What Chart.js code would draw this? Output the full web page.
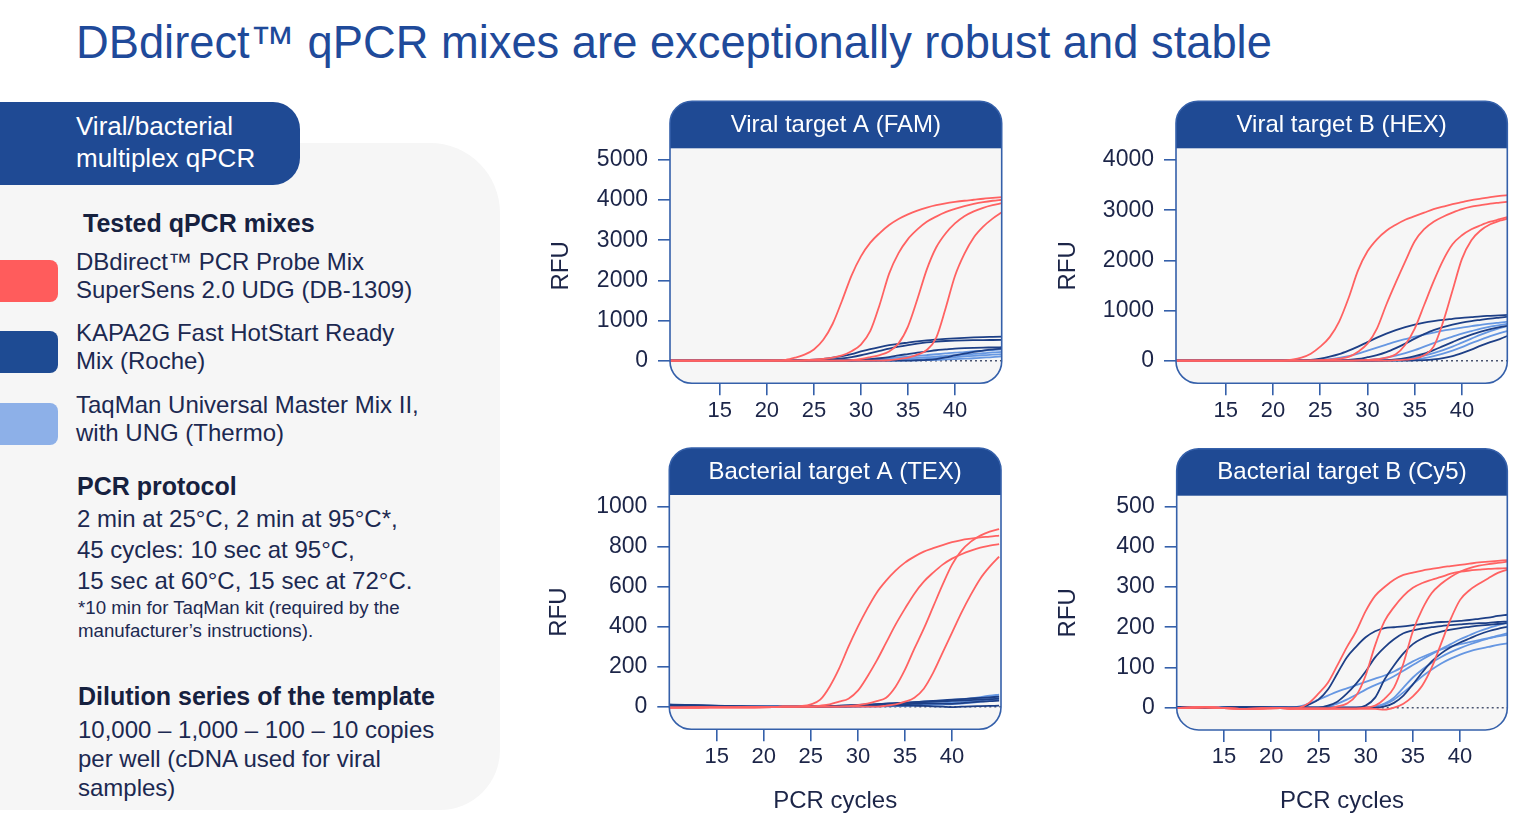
<!DOCTYPE html>
<html>
<head>
<meta charset="utf-8">
<script src="https://cdn.jsdelivr.net/npm/chart.js@4.4.1/dist/chart.umd.min.js"></script>
<style>
  html, body { margin: 0; padding: 0; background: #fff; }
  body { width: 1536px; height: 829px; position: relative; overflow: hidden;
         font-family: 'Liberation Sans', Arial, sans-serif; color: #1c2951; }
  .abs { position: absolute; white-space: nowrap; }
  #title { left: 76px; top: 17.6px; font-size: 45.3px; line-height: 50px; color: #1f4a9a; }
  #panel { left: 0; top: 143px; width: 500px; height: 667px; background: #f6f6f6;
           border-radius: 0 70px 60px 0; }
  #tab { left: 0; top: 102px; width: 300px; height: 83px; background: #1f4a94;
         border-radius: 0 27px 27px 0; }
  #tabText { left: 76px; top: 110px; font-size: 26px; line-height: 32px; color: #fff; }
  .sw { position: absolute; left: 0; width: 58px; border-radius: 0 8px 8px 0; }
  .head { font-weight: bold; font-size: 25px; line-height: 30px; color: #16213f; }
  .leg { font-size: 24px; line-height: 28.3px; }
  .proto { font-size: 24px; line-height: 31.2px; }
  .note { font-size: 18.7px; line-height: 22.7px; }
  .dil { font-size: 24px; line-height: 29px; }
  canvas { position: absolute; }
</style>
</head>
<body>
<div id="title" class="abs">DBdirect™ qPCR mixes are exceptionally robust and stable</div>
<div id="panel" class="abs"></div>
<div id="tab" class="abs"></div>
<div id="tabText" class="abs">Viral/bacterial<br>multiplex qPCR</div>

<div class="abs head" style="left:83px;top:208px">Tested qPCR mixes</div>
<div class="sw" style="top:260px;height:42px;background:#ff5c5c"></div>
<div class="sw" style="top:331px;height:42px;background:#1e4b93"></div>
<div class="sw" style="top:403px;height:42px;background:#8db0e8"></div>
<div class="abs leg" style="left:76px;top:247.5px">DBdirect™ PCR Probe Mix<br>SuperSens 2.0 UDG (DB-1309)</div>
<div class="abs leg" style="left:76px;top:319.2px">KAPA2G Fast HotStart Ready<br>Mix (Roche)</div>
<div class="abs leg" style="left:76px;top:390.8px">TaqMan Universal Master Mix II,<br>with UNG (Thermo)</div>

<div class="abs head" style="left:77px;top:471.3px">PCR protocol</div>
<div class="abs proto" style="left:77px;top:502.8px">2 min at 25°C, 2 min at 95°C*,<br>45 cycles: 10 sec at 95°C,<br>15 sec at 60°C, 15 sec at 72°C.</div>
<div class="abs note" style="left:78px;top:597px">*10 min for TaqMan kit (required by the<br>manufacturer’s instructions).</div>

<div class="abs head" style="left:78px;top:681.3px">Dilution series of the template</div>
<div class="abs dil" style="left:78px;top:714.9px">10,000 – 1,000 – 100 – 10 copies<br>per well (cDNA used for viral<br>samples)</div>

<canvas id="famChart" width="475" height="345" style="left:540px;top:95px"></canvas>
<canvas id="hexChart" width="486" height="345" style="left:1050px;top:95px"></canvas>
<canvas id="texChart" width="475" height="389" style="left:540px;top:440px"></canvas>
<canvas id="cy5Chart" width="486" height="389" style="left:1050px;top:440px"></canvas>

<script>
// PCR cycle at which each value was read
const cycles = [9, 13, 17, 21, 22, 23, 24, 25, 26, 27, 28, 29, 30, 31, 32, 33, 34, 35, 36, 37, 38, 39, 40, 41, 42, 43, 44, 45];
const xTicks = [15, 20, 25, 30, 35, 40];

// Viral target A (FAM)
const famRed1 = [0,0,0,5, 20,75,150,280,520,920,1500,2120,2600,2940,3180,3380,3530,3645,3740,3815,3875,3920,3955,3985,4010,4035,4055,4075];
const famRed2 = [0,0,0,0, 0,0,10,25,45,75,130,235,400,740,1400,2170,2680,3030,3270,3460,3590,3700,3780,3850,3905,3950,3985,4010];
const famRed3 = [0,0,0,0, 0,0,0,0,0,0,0,15,45,90,140,230,430,850,1530,2270,2820,3170,3420,3600,3720,3810,3875,3925];
const famRed4 = [0,0,0,0, 0,0,0,0,0,0,0,0,0,0,0,10,40,75,150,265,570,1300,2110,2660,3070,3340,3540,3700];
const famDark1 = [0,0,0,0, 0,5,12,25,45,75,115,165,230,290,340,385,420,450,480,505,525,543,558,570,580,588,594,600];
const famDark2 = [0,0,0,0, 0,0,0,5,15,30,55,90,135,190,245,300,350,390,425,455,475,490,500,506,510,513,515,517];
const famDark3 = [0,0,0,0, 0,0,0,0,0,0,5,10,20,35,60,90,130,165,200,230,260,280,300,312,320,326,330,335];
const famDark4 = [0,0,0,0, 0,0,0,0,0,0,0,0,0,0,0,0,0,0,10,20,40,80,130,175,220,250,280,300];
const famLight1 = [0,0,0,0, 0,0,0,0,0,0,5,10,20,30,40,60,80,100,120,140,160,180,200,215,235,250,265,280];
const famLight2 = [0,0,0,0, 0,0,0,0,0,0,0,0,5,10,20,30,40,55,70,85,100,120,135,150,170,185,205,220];
const famLight3 = [0,0,0,0, 0,0,0,0,0,0,0,0,0,0,5,10,15,20,30,45,60,75,90,105,120,135,150,160];
const famLight4 = [0,0,0,0, 0,0,0,0,0,0,0,0,0,0,0,0,2,5,10,15,20,30,40,50,60,75,90,110];
const famTicks = [0, 1000, 2000, 3000, 4000, 5000];

// Viral target B (HEX)
const hexRed1 = [0,0,0,0, 20,60,140,280,470,780,1250,1800,2180,2420,2590,2710,2810,2880,2950,3020,3070,3120,3160,3200,3230,3260,3285,3300];
const hexRed2 = [0,0,0,0, 0,0,5,10,20,40,75,180,340,640,1120,1560,1980,2380,2620,2770,2870,2950,3020,3070,3100,3130,3150,3170];
const hexRed3 = [0,0,0,0, 0,0,0,0,0,0,0,5,15,30,60,130,320,640,1110,1580,2000,2320,2500,2620,2700,2770,2820,2870];
const hexRed4 = [0,0,0,0, 0,0,0,0,0,0,0,0,0,0,0,10,20,40,110,280,770,1400,2030,2400,2600,2720,2790,2840];
const hexDark1 = [0,0,0,0, 0,5,15,40,80,130,200,280,370,460,540,610,670,720,760,790,815,835,855,870,885,895,905,915];
const hexDark2 = [0,0,0,0, 0,0,0,0,0,5,15,35,70,110,170,250,340,440,530,610,670,720,760,790,815,840,860,880];
const hexDark3 = [0,0,0,0, 0,0,0,0,0,0,0,0,0,0,0,0,0,5,10,25,50,90,150,220,300,370,430,510];
const hexDark4 = [0,0,0,0, 0,0,0,0,0,0,0,0,0,5,10,25,50,90,140,210,290,370,450,520,580,630,670,700];
const hexLight1 = [0,0,0,0, 0,0,5,15,30,55,90,140,200,260,320,380,430,480,520,560,600,630,660,690,715,740,760,780];
const hexLight2 = [0,0,0,0, 0,0,0,0,0,0,0,5,15,30,60,100,150,210,280,350,420,480,540,590,640,680,710,740];
const hexLight3 = [0,0,0,0, 0,0,0,0,0,0,0,0,0,0,5,15,30,60,100,150,210,280,360,440,520,590,650,700];
const hexLight4 = [0,0,0,0, 0,0,0,0,0,0,0,0,0,0,0,5,10,25,50,90,140,200,270,350,420,490,550,600];
const hexTicks = [0, 1000, 2000, 3000, 4000];

// Bacterial target A (TEX)
const texRed1 = [-5,-4,-3,-2, 0,0,3,12,35,100,190,300,400,490,570,630,680,720,750,775,792,808,822,833,840,846,850,855];
const texRed2 = [-5,-4,-3,-2, 0,0,0,0,5,12,25,40,80,150,230,320,410,490,565,625,670,710,740,762,780,795,805,813];
const texRed3 = [-5,-4,-3,-2, 0,0,0,0,0,0,0,3,8,15,28,45,100,185,290,390,500,610,710,780,825,855,875,888];
const texRed4 = [-5,-4,-3,-2, 0,0,0,0,0,0,0,0,0,0,0,5,12,25,45,90,170,270,370,470,560,640,700,750];
const texDark1 = [12,8,3,0, 0,0,0,0,0,2,4,6,8,10,12,15,18,20,23,26,29,32,35,38,41,44,47,50];
const texDark2 = [10,6,2,0, 0,0,0,0,2,3,5,7,9,11,13,15,17,19,21,23,25,27,29,31,33,35,38,40];
const texDark3 = [8,5,0,-2, -2,-2,-1,0,0,1,2,3,4,5,6,8,10,12,14,15,16,15,14,18,22,25,28,30];
const texDark4 = [6,3,0,0, 0,0,0,0,0,0,0,1,2,3,4,5,6,6,5,4,2,0,-2,0,2,3,4,5];
const texLight1 = [5,3,0,0, 0,0,0,0,0,1,2,4,6,8,10,13,16,19,22,25,28,31,34,38,42,48,55,60];
const texLight2 = [4,2,0,0, 0,0,0,0,0,0,1,2,4,6,8,10,12,15,18,21,24,27,30,33,37,42,48,52];
const texLight3 = [3,1,0,0, 0,0,0,0,0,0,0,0,1,2,3,4,6,8,10,12,14,17,20,23,27,32,38,44];
const texLight4 = [2,1,0,0, 0,0,0,0,0,0,0,0,0,0,1,2,3,4,5,7,9,11,13,16,20,25,30,35];
const texTicks = [0, 200, 400, 600, 800, 1000];

// Bacterial target B (Cy5)
const cy5Red1 = [-2,1,-3,-1, -2,0,12,35,62,105,150,190,240,278,300,318,330,336,341,345,349,352,355,358,361,363,365,367];
const cy5Red2 = [-2,1,-3,-1, -2,-2,-2,-2,-2,3,10,30,80,155,215,250,278,298,310,318,325,333,338,341,343,345,346,347];
const cy5Red3 = [-2,1,-3,-1, -2,-2,-2,-2,-2,-2,-2,-2,0,5,22,50,110,190,245,285,308,325,338,347,353,357,360,363];
const cy5Red4 = [-2,1,-3,-1, -3,-3,-3,-3,-3,-3,-3,-3,-3,-3,-5,0,10,28,55,100,160,220,268,292,308,322,335,343];
const cy5Dark1 = [2,-1,1,0, 0,0,8,20,45,85,125,152,175,190,198,200,202,205,208,211,213,214,216,218,221,224,228,231];
const cy5Dark2 = [2,-1,1,0, 0,0,0,0,5,15,35,60,90,125,150,170,185,192,197,200,203,205,207,209,210,211,213,214];
const cy5Dark3 = [2,-1,1,0, 0,0,0,0,0,0,0,0,5,25,70,105,135,158,172,182,189,194,198,201,204,206,208,210];
const cy5Dark4 = [2,-1,1,0, 0,0,0,0,0,0,0,0,0,0,3,12,30,58,88,115,135,150,162,172,182,190,196,201];
const cy5Light1 = [1,2,0,1, 0,3,10,20,30,40,48,56,64,72,80,90,102,115,126,136,145,152,158,163,168,173,177,181];
const cy5Light2 = [1,2,0,1, 0,0,0,0,3,10,20,32,45,56,66,78,92,106,120,133,146,158,170,180,190,198,205,212];
const cy5Light3 = [1,2,0,1, 0,0,0,0,0,0,0,0,0,3,10,25,50,75,95,112,126,138,148,157,165,172,179,185];
const cy5Light4 = [1,2,0,1, 0,0,0,0,0,0,0,0,0,2,8,20,38,58,78,95,110,122,132,140,146,151,156,160];
const cy5Ticks = [0, 100, 200, 300, 400, 500];

const RED = "#ff6262";
const DARK = "#1d3f86";
const LIGHT = "#6697e2";
const BAND = "#1f4a94";
const EDGE = "#3560aa";
const FONT = "'Liberation Sans', Arial, sans-serif";

Chart.defaults.font.family = FONT;
Chart.defaults.color = "#1c2548";

function roundedPath(ctx, x, y, w, h, r) {
  ctx.beginPath();
  ctx.moveTo(x + r, y);
  ctx.lineTo(x + w - r, y);
  ctx.arcTo(x + w, y, x + w, y + r, r);
  ctx.lineTo(x + w, y + h - r);
  ctx.arcTo(x + w, y + h, x + w - r, y + h, r);
  ctx.lineTo(x + r, y + h);
  ctx.arcTo(x, y + h, x, y + h - r, r);
  ctx.lineTo(x, y + r);
  ctx.arcTo(x, y, x + r, y, r);
  ctx.closePath();
}

// rounded plot box with the dark title band on top
const panelBox = {
  id: "panelBox",
  beforeDraw(chart, args, opts) {
    const { ctx, chartArea: a } = chart;
    const bandH = 47;
    const top = a.top - bandH;
    const w = a.right - a.left, h = a.bottom - top;
    ctx.save();
    roundedPath(ctx, a.left, top, w, h, 22);
    ctx.fillStyle = "#f6f6f6";
    ctx.fill();
    ctx.clip();
    ctx.fillStyle = BAND;
    ctx.fillRect(a.left, top, w, bandH);
    ctx.restore();

    ctx.save();
    ctx.fillStyle = "#ffffff";
    ctx.font = "24px " + FONT;
    ctx.textAlign = "center";
    ctx.textBaseline = "alphabetic";
    ctx.fillText(opts.title, (a.left + a.right) / 2, top + 30.6);
    ctx.restore();
  },
  beforeDatasetsDraw(chart) {
    const { ctx, chartArea: a, scales } = chart;
    const y0 = scales.y.getPixelForValue(0);
    ctx.save();
    ctx.strokeStyle = "#4a5470";
    ctx.lineWidth = 1.5;
    ctx.setLineDash([2, 3]);
    ctx.beginPath();
    ctx.moveTo(a.left, y0);
    ctx.lineTo(a.right, y0);
    ctx.stroke();
    ctx.restore();
  },
  afterDraw(chart) {
    const { ctx, chartArea: a } = chart;
    const top = a.top - 47;
    ctx.save();
    roundedPath(ctx, a.left, top, a.right - a.left, a.bottom - top, 22);
    ctx.strokeStyle = EDGE;
    ctx.lineWidth = 1.6;
    ctx.stroke();
    ctx.restore();
  }
};

function line(values, color) {
  return { data: values, borderColor: color, borderWidth: 1.8, pointRadius: 0,
           cubicInterpolationMode: "monotone", fill: false };
}

function makeChart(id, title, reds, darks, lights, yTicks, box) {
  const datasets = [
    ...reds.map(v => line(v, RED)),
    ...darks.map(v => line(v, DARK)),
    ...lights.map(v => line(v, LIGHT))
  ];
  return new Chart(document.getElementById(id), {
    type: "line",
    data: { labels: cycles, datasets: datasets },
    options: {
      responsive: false,
      animation: false,
      devicePixelRatio: 1,
      layout: { padding: box.pad },
      plugins: {
        legend: { display: false },
        tooltip: { enabled: false },
        panelBox: { title: title }
      },
      scales: {
        x: {
          type: "linear",
          min: box.xmin,
          max: box.xmax,
          afterBuildTicks: s => { s.ticks = xTicks.map(v => ({ value: v })); },
          afterFit: s => { s.height = box.xh; },
          border: { display: false },
          grid: { drawOnChartArea: false, drawTicks: true, tickLength: 12, color: EDGE, lineWidth: 1.6 },
          ticks: { font: { size: 22 }, padding: 2, maxRotation: 0, callback: v => String(v) },
          title: { display: box.xTitle, text: "PCR cycles", font: { size: 24 }, padding: 0, color: "#1c2548" }
        },
        y: {
          type: "linear",
          min: box.ymin,
          max: box.ymax,
          afterBuildTicks: s => { s.ticks = yTicks.map(v => ({ value: v })); },
          afterFit: s => { s.width = box.yw; },
          border: { display: false },
          grid: { drawOnChartArea: false, drawTicks: true, tickLength: 12, color: EDGE, lineWidth: 1.6 },
          ticks: { font: { size: 23 }, padding: 10, callback: v => String(v) },
          title: { display: true, text: "RFU", font: { size: 24 }, padding: 0, color: "#1c2548" }
        }
      }
    },
    plugins: [panelBox]
  });
}

makeChart("famChart", "Viral target A (FAM)",
  [famRed1, famRed2, famRed3, famRed4],
  [famDark1, famDark2, famDark3, famDark4],
  [famLight1, famLight2, famLight3, famLight4],
  famTicks,
  { pad: { left: 6.8, right: 13.3, top: 53.3, bottom: 0 }, yw: 123.2, xh: 56.7,
    xmin: 9.7, xmax: 44.97, ymin: -564, ymax: 5292, xTitle: false });

makeChart("hexChart", "Viral target B (HEX)",
  [hexRed1, hexRed2, hexRed3, hexRed4],
  [hexDark1, hexDark2, hexDark3, hexDark4],
  [hexLight1, hexLight2, hexLight3, hexLight4],
  hexTicks,
  { pad: { left: 3.5, right: 28.7, top: 53.3, bottom: 0 }, yw: 122.5, xh: 56.7,
    xmin: 9.73, xmax: 44.8, ymin: -450, ymax: 4233, xTitle: false });

makeChart("texChart", "Bacterial target A (TEX)",
  [texRed1, texRed2, texRed3, texRed4],
  [texDark1, texDark2, texDark3, texDark4],
  [texLight1, texLight2, texLight3, texLight4],
  texTicks,
  { pad: { left: 5.1, right: 14, top: 55, bottom: 12.8 }, yw: 124.2, xh: 86.9,
    xmin: 9.97, xmax: 45.2, ymin: -113, ymax: 1058, xTitle: true });

makeChart("cy5Chart", "Bacterial target B (Cy5)",
  [cy5Red1, cy5Red2, cy5Red3, cy5Red4],
  [cy5Dark1, cy5Dark2, cy5Dark3, cy5Dark4],
  [cy5Light1, cy5Light2, cy5Light3, cy5Light4],
  cy5Ticks,
  { pad: { left: 3.5, right: 28.7, top: 55.7, bottom: 12.8 }, yw: 123.2, xh: 86.2,
    xmin: 9.99, xmax: 45.0, ymin: -55.5, ymax: 527, xTitle: true });
</script>
</body>
</html>
